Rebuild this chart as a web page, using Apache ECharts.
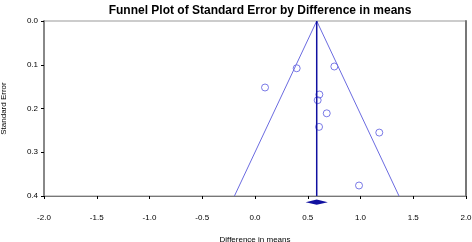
<!DOCTYPE html>
<html>
<head>
<meta charset="utf-8">
<script src="https://cdn.jsdelivr.net/npm/echarts@6/dist/echarts.min.js"></script>
<style>
  html, body { margin: 0; padding: 0; background: #fff; }
  #chart { width: 472px; height: 242px; }
</style>
</head>
<body>
<div id="chart"></div>
<script>
// study points: difference in means vs standard error
var studyDiff = [0.395, 0.752, 0.095, 0.61, 0.594, 0.68, 0.607, 1.178, 0.986];
var studySE   = [0.108, 0.104, 0.152, 0.168, 0.181, 0.211, 0.242, 0.255, 0.376];

// pooled estimate and funnel edges
var meanDiff = 0.585;
var funnelX = [-0.195, 0.585, 1.365];
var funnelY = [0.4, 0.0, 0.4];
var meanLineY = [0.0, 0.4];

// summary diamond (lower, estimate, upper) drawn under the axis
var diamondX = [0.48, 0.585, 0.69];
var diamondY = 0.414;
var diamondHalfH = 0.006;

var xTicks = ['-2.0', '-1.5', '-1.0', '-0.5', '0.0', '0.5', '1.0', '1.5', '2.0'];

var chart = echarts.init(document.getElementById('chart'));

var points = studyDiff.map(function (d, i) { return [d, studySE[i]]; });
var funnel = funnelX.map(function (d, i) { return [d, funnelY[i]]; });
var meanLine = meanLineY.map(function (s) { return [meanDiff, s]; });

chart.setOption({
  animation: false,
  title: {
    text: 'Funnel Plot of Standard Error by Difference in means',
    left: 255,
    textAlign: 'center',
    top: 0,
    textStyle: { fontFamily: 'Liberation Sans', fontSize: 12, fontWeight: 'bold', color: '#000' }
  },
  grid: {
    left: 44, right: 6, top: 21, bottom: 46,
    containLabel: false, outerBoundsMode: 'none',
    show: true, borderColor: '#999', borderWidth: 1
  },
  xAxis: {
    type: 'value', min: -2, max: 2, interval: 0.5,
    name: 'Difference in means', nameLocation: 'middle', nameGap: 40,
    nameTextStyle: { fontFamily: 'Liberation Sans', fontSize: 8, color: '#000' },
    axisLine: { onZero: false, lineStyle: { color: '#777', width: 1 } },
    axisTick: { show: true, length: 3, lineStyle: { color: '#000' } },
    axisLabel: {
      margin: 18, fontFamily: 'Liberation Sans', fontSize: 8, color: '#000',
      formatter: function (v) { return xTicks[Math.round((v + 2) / 0.5)]; }
    },
    splitLine: { show: false }
  },
  yAxis: [{
    type: 'value', min: 0, max: 0.4, interval: 0.1, inverse: true,
    name: 'Standard Error', nameLocation: 'middle', nameGap: 36,
    nameTextStyle: { fontFamily: 'Liberation Sans', fontSize: 8, color: '#000' },
    axisLine: { show: true, onZero: false, lineStyle: { color: '#888', width: 2 } },
    axisTick: { show: true, length: 3, lineStyle: { color: '#000' } },
    axisLabel: {
      margin: 6, fontFamily: 'Liberation Sans', fontSize: 8, color: '#000',
      formatter: function (v) { return v.toFixed(1); }
    },
    splitLine: { show: false }
  }, {
    type: 'value', min: 0, max: 0.4, inverse: true, position: 'right',
    axisLine: { show: true, onZero: false, lineStyle: { color: '#777', width: 2 } },
    axisTick: { show: false }, axisLabel: { show: false }, splitLine: { show: false }
  }],
  series: [
    {
      type: 'line', data: funnel, symbol: 'none',
      lineStyle: { color: '#6b6be0', width: 1 }
    },
    {
      type: 'line', data: meanLine, symbol: 'none',
      lineStyle: { color: '#1010a0', width: 1.5 }
    },
    {
      type: 'scatter', data: points, symbol: 'circle', symbolSize: 7,
      itemStyle: { color: 'rgba(255,255,255,0)', borderColor: '#5a5ae0', borderWidth: 1 }
    },
    {
      type: 'custom', clip: false,
      data: [[diamondX[0], diamondX[1], diamondX[2], diamondY]],
      renderItem: function (params, api) {
        var lo = api.value(0), mid = api.value(1), hi = api.value(2), y = api.value(3);
        var pts = [
          api.coord([lo, y]),
          api.coord([mid, y - diamondHalfH]),
          api.coord([hi, y]),
          api.coord([mid, y + diamondHalfH])
        ];
        return { type: 'polygon', shape: { points: pts }, style: { fill: '#1010a0' } };
      }
    }
  ]
});
</script>
</body>
</html>
